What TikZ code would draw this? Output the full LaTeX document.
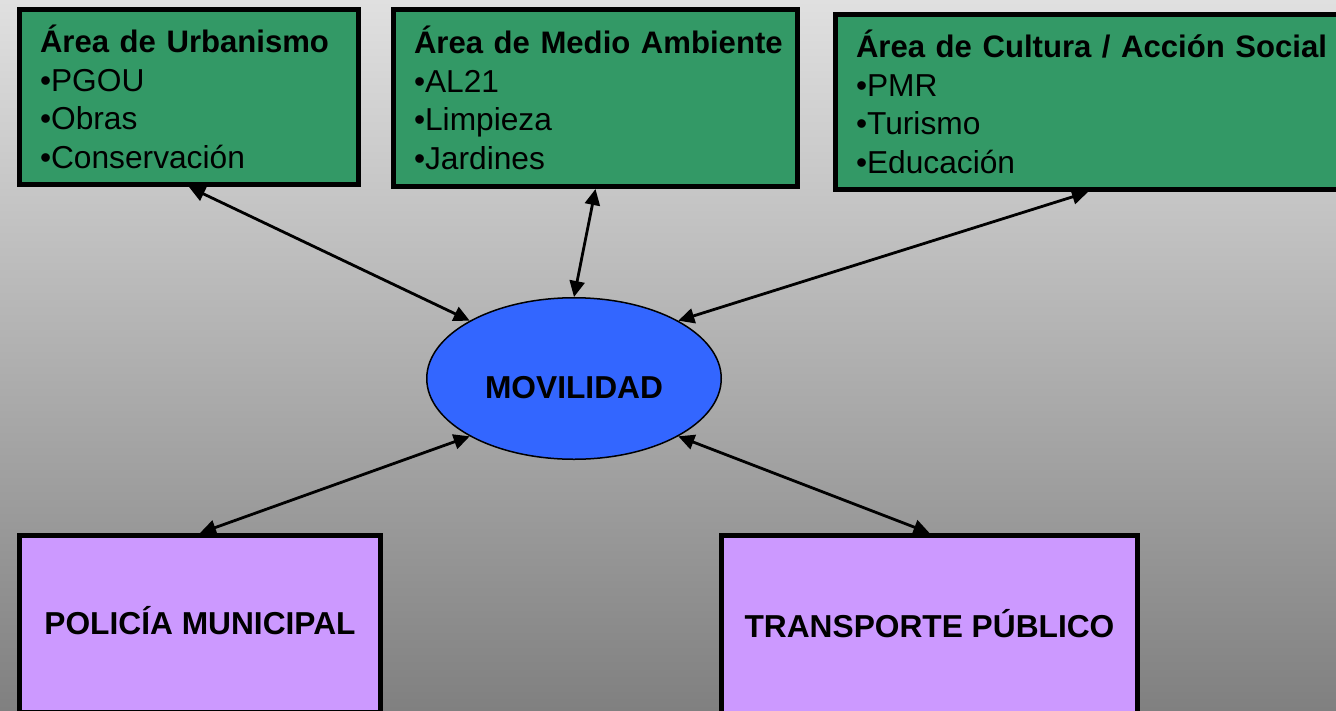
\documentclass[tikz,border=0pt]{standalone}
\usepackage{fontspec}
\setmainfont{Liberation Sans}
\usepackage{tikz}
\usetikzlibrary{shapes,shapes.geometric,arrows.meta,positioning}
\definecolor{areagreen}{RGB}{51,153,102}
\definecolor{deptlilac}{RGB}{204,153,255}
\definecolor{movblue}{RGB}{51,102,255}
\definecolor{bgtop}{RGB}{224,224,224}
\definecolor{bgbottom}{RGB}{128,128,128}
\newcommand{\slidefont}{\fontsize{31.7pt}{38.5pt}\selectfont}
\newcommand{\areahead}[1]{\makebox[\hsize][l]{\fontsize{31.1pt}{38.5pt}\selectfont\bfseries #1}}
\tikzset{area/.style={draw, rectangle, fill=areagreen, line width=5pt, align=left, inner xsep=20.5pt, inner ysep=0pt, font=\slidefont}}
\tikzset{dept/.style={draw, rectangle, fill=deptlilac, line width=5pt, font=\slidefont\bfseries, text height=30pt, text depth=10pt}}
\tikzset{hub/.style={draw, ellipse, fill=movblue, line width=1.5pt, inner sep=0pt, font=\slidefont\bfseries}}

\begin{document}
\begin{tikzpicture}[x=1pt, y=-1pt, >={Triangle[length=16pt,width=15pt]}]
\useasboundingbox (0,0) rectangle (1336,710);
\fill[top color=bgtop, bottom color=bgbottom] (0,0) rectangle (1336,710);

\node[hub, minimum width=294.5pt, minimum height=161.5pt, text height=39pt, text depth=0pt] (MOV) at (574,378.5) {MOVILIDAD};

\node[area, text width=298pt, minimum height=175pt, anchor=north west] (URB) at (17,7)
  {\areahead{Área de Urbanismo}\\•PGOU\\•Obras\\•Conservación};
\node[area, text width=363pt, minimum height=177pt, right=30pt of URB.north east, anchor=north west] (MED)
  {\areahead{Área de Medio Ambiente}\\•AL21\\•Limpieza\\•Jardines};
\node[area, text width=464pt, minimum height=175pt, below right=5pt and 33pt of MED.north east, anchor=north west] (CUL)
  {\areahead{Área de Cultura / Acción Social}\\•PMR\\•Turismo\\•Educación};

\node[dept, minimum width=361pt, minimum height=177pt, below=346pt of URB.south west, anchor=north west] (POL) {POLICÍA MUNICIPAL};
\node[dept, minimum width=416pt, minimum height=184pt, right=336pt of POL.north east, anchor=north west] (TRA) {TRANSPORTE PÚBLICO};

\path[<->, line width=2.8pt] (URB.south) edge (MOV.151)
         (MED.south) edge (MOV.north)
         (CUL.south) edge (MOV.29)
         (POL.north) edge (MOV.209)
         (TRA.north) edge (MOV.331);
\end{tikzpicture}
\end{document}
